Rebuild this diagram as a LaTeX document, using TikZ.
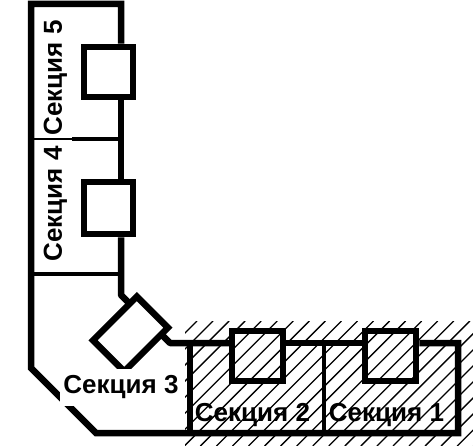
\documentclass[tikz,border=0pt]{standalone}
\usepackage{fontspec}
\setmainfont{Liberation Sans}
\begin{document}
\begin{tikzpicture}[x=1pt,y=-1pt,
  wall/.style={line width=6.5pt,line cap=butt,line join=miter},
  thin wall/.style={line width=3.5pt},
  valve/.style={draw,line width=6.5pt,minimum width=#1,minimum height=50pt,inner sep=0pt},
  hatchline/.style={line width=1.3pt},
  lbl/.style={font=\bfseries\fontsize{26}{28}\selectfont,inner sep=0pt}]
\useasboundingbox (0,0) rectangle (473,446);
\begin{scope}
  \clip (185,321) rectangle (473,446);
  \foreach \k in {0,...,25}
    \draw[hatchline] ({518+16.05*\k-321+0},321) -- ({518+16.05*\k-446},446);
\end{scope}
% pumps / squares
\node[valve=49pt] (s5) at (108.5,72) {};
\node[valve=49pt,minimum height=52pt] (s4) at (108.5,208) {};
\node[valve=51pt] (s2) at (257.5,356) {};
\node[valve=51pt] (s1) at (390.5,356) {};
\node[draw,line width=6.5pt,minimum width=62pt,minimum height=44pt,inner sep=0pt,rotate=45] (s3) at (130.5,334) {};
% corners
\coordinate (tl) at (31,4);
\coordinate (tr) at (121,4);
\coordinate (dl) at (31,368);
\coordinate (db) at (96,433);
\coordinate (br) at (458,433);
\coordinate (tR) at (458,343);
\coordinate (k1) at (121,295);
\coordinate (k1e) at (128,302);
\coordinate (k2) at (170,343);
\coordinate (k2e) at (162,335);
\coordinate (d2t) at (190,343);
\coordinate (d2b) at (190,433);
\coordinate (d1t) at (324,343);
\coordinate (d1b) at (324,433);
\draw[wall] (s5.north -| tr) -- (tr) -- (tl) -- (dl) -- (db) -- (br) -- (tR) -- (s1.east |- tR);
\draw[wall] (s5.south -| tr) -- (s4.north -| tr);
\draw[wall,line join=round] (s4.south -| tr) -- (k1) -- (k1e);
\draw[wall,line join=round] (k2e) -- (k2) -- (s2.west |- k2);
\draw[wall] (s2.east |- k2) -- (s1.west |- k2);
\draw[wall] (d2t) -- (d2b);
\draw[thin wall] (d1t) -- (d1b);
\draw[line width=2.5pt] (31,139) -- (72,139);
\draw[thin wall] (72,139) -- (121,139);
\draw[thin wall] (31,274) -- (121,274);
% labels
\node[lbl,rotate=90] (t5) at (55.5,78) {Секция 5};
\node[lbl,rotate=90] (t4) at (55.5,204) {Секция 4};
\node[lbl,fill=white,minimum width=122pt,minimum height=37pt] (t3) at (121,387.5) {Секция 3};
\node[lbl] (t2) at (252.5,415) {Секция 2};
\node[lbl] (t1) at (386.5,415) {Секция 1};
\end{tikzpicture}
\end{document}
